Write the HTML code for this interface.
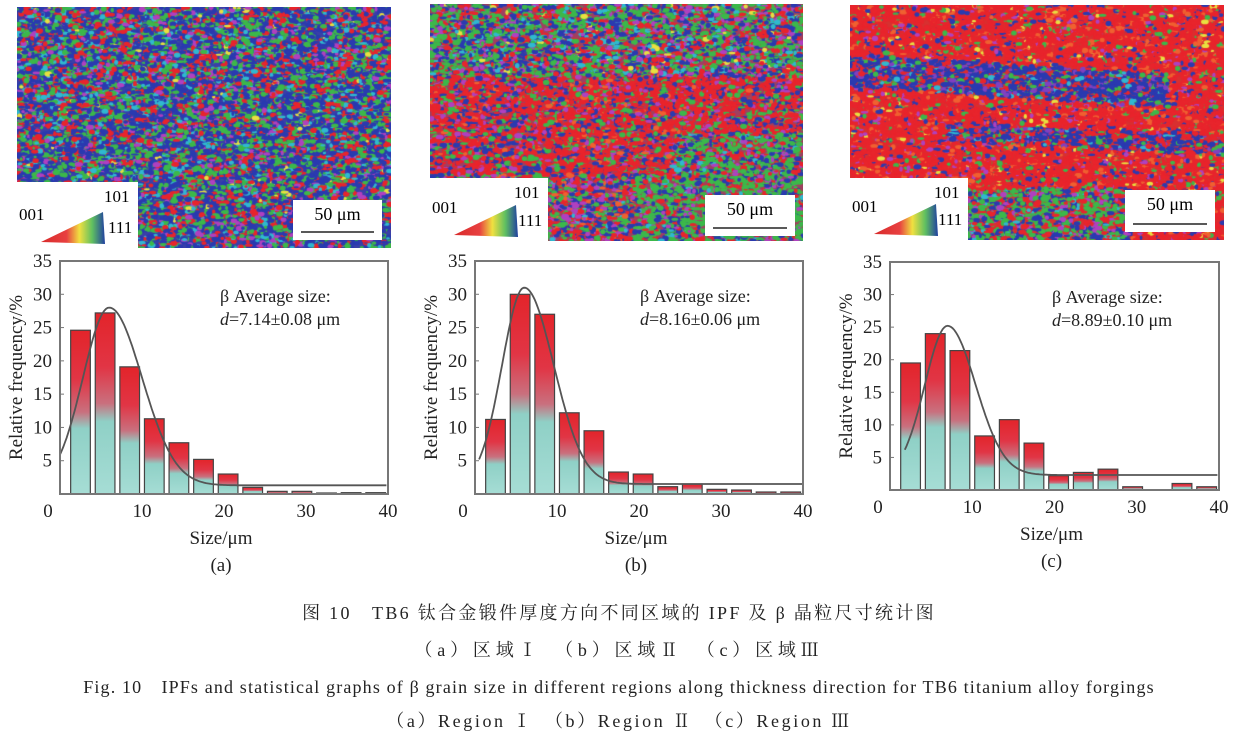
<!DOCTYPE html>
<html><head><meta charset="utf-8"><style>
html,body{margin:0;padding:0;background:#fff;}
body{width:1238px;height:731px;position:relative;overflow:hidden;font-family:"Liberation Serif","Noto Serif CJK SC",serif;}
canvas{position:absolute;}
.cap{position:absolute;left:0;width:1238px;text-align:center;color:#222;white-space:pre;}
</style></head><body>
<canvas id="m1" width="374" height="241" style="left:17px;top:7px"></canvas>
<canvas id="m2" width="373" height="237" style="left:430px;top:4px"></canvas>
<canvas id="m3" width="374" height="235" style="left:850px;top:5px"></canvas>
<svg id="ov" width="1238" height="731" style="position:absolute;left:0;top:0" font-family="Liberation Serif, serif">
<defs>
<linearGradient id="bg" x1="0" y1="0" x2="0" y2="1">
<stop offset="0" stop-color="#e3242a"/><stop offset="0.3" stop-color="#e13545"/><stop offset="0.5" stop-color="#c9707e"/><stop offset="0.6" stop-color="#8fd0c6"/><stop offset="1" stop-color="#a6ddd5"/>
</linearGradient>
<linearGradient id="tri" x1="0" y1="0" x2="1" y2="0">
<stop offset="0" stop-color="#d82a2a"/><stop offset="0.4" stop-color="#e84040"/><stop offset="0.6" stop-color="#f0e040"/><stop offset="0.8" stop-color="#60c060"/><stop offset="1" stop-color="#2040a0"/>
</linearGradient>
</defs>
<g id="charts"></g>
</svg>
<div class="cap" style="top:599px;font-size:18px;letter-spacing:2.3px">图 10　TB6 钛合金锻件厚度方向不同区域的 IPF 及 β 晶粒尺寸统计图</div>
<div class="cap" style="top:636px;font-size:18px;letter-spacing:4.8px">（a）区域Ⅰ　（b）区域Ⅱ　（c）区域Ⅲ</div>
<div class="cap" style="top:673px;font-size:18px;letter-spacing:1.15px">Fig. 10　IPFs and statistical graphs of β grain size in different regions along thickness direction for TB6 titanium alloy forgings</div>
<div class="cap" style="top:707px;font-size:18px;letter-spacing:2.6px">（a）Region Ⅰ　（b）Region Ⅱ　（c）Region Ⅲ</div>
<script>
var seed=12345;function rnd(){seed=(seed*16807)%2147483647;return seed/2147483647;}
var C={r:'#e8242c',b:'#2a3ab0',g:'#3cb84a',c:'#30b8d0',m:'#b040c0',o:'#f06030',y:'#e8e040',p:'#8040c0'};
function pick(w){var s=0,k;for(k in w)s+=w[k];var t=rnd()*s;for(k in w){t-=w[k];if(t<=0)return C[k];}return C.r;}
function w1(x,y){return {b:40,g:25,r:20,c:8,m:7,y:1};}
function w2(x,y){if(y<0.3)return {g:35,b:25,r:20,m:10,c:8,y:2};
 if(y<0.72){if(x>0.65&&y>0.55)return {g:40,b:25,r:20,m:10,c:5};return {r:55,b:18,g:15,m:8,o:4};}
 if(x>0.55)return {g:50,b:20,r:15,m:10,c:5};return {r:25,b:25,g:25,m:15,o:8,c:2};}
function w3(x,y){var b1=0.28+0.1*x, b2=0.52+0.08*x;
 if(Math.abs(y-b1)<0.07&&x<0.85)return {b:55,p:15,r:15,g:10,c:5};
 if(Math.abs(y-b2)<0.04&&x>0.25)return {b:45,r:30,g:10,p:10,c:5};
 if(y>0.78&&x>0.25&&x<0.75)return {g:35,b:25,r:25,m:10,c:5};
 return {r:72,o:8,b:8,g:6,m:4,y:2};}
function map(id,wf,base){var cv=document.getElementById(id),ctx=cv.getContext('2d'),W=cv.width,H=cv.height;
 ctx.fillStyle=base;ctx.fillRect(0,0,W,H);
 for(var i=0;i<14000;i++){var x=rnd()*W,y=rnd()*H;ctx.fillStyle=pick(wf(x/W,y/H));ctx.beginPath();ctx.ellipse(x,y,1.5+rnd()*2.5,1+rnd()*1.8,0,0,6.283);ctx.fill();}}
map('m1',w1,'#3a40a8');map('m2',w2,'#a04060');map('m3',w3,'#d83030');
var NS='http://www.w3.org/2000/svg',G=document.getElementById('charts');
function el(t,a,txt){var e=document.createElementNS(NS,t);for(var k in a)e.setAttribute(k,a[k]);if(txt!=null)e.textContent=txt;G.appendChild(e);return e;}
[[17,182,138,248,293,200,382,240],[430,178,548,241,705,195,795,236],[850,178,968,240,1125,190,1215,232]].forEach(function(L){
 el('rect',{x:L[0],y:L[1],width:L[2]-L[0],height:L[3]-L[1],fill:'#fff'});
 var tx=L[0]+24,ty=L[3]-18;el('polygon',{points:(tx)+','+(ty+12)+' '+(tx+62)+','+(ty-18)+' '+(tx+64)+','+(ty+14),fill:'url(#tri)'});
 el('text',{x:L[0]+2,y:L[3]-28,'font-size':17},'001');el('text',{x:L[2]-34,y:L[1]+20,'font-size':17},'101');el('text',{x:L[2]-30,y:L[3]-15,'font-size':17},'111');
 el('rect',{x:L[4],y:L[5],width:L[6]-L[4],height:L[7]-L[5],fill:'#fff'});
 el('text',{x:(L[4]+L[6])/2,y:L[5]+20,'font-size':18,'text-anchor':'middle'},'50 μm');
 el('line',{x1:L[4]+8,x2:L[6]-8,y1:L[7]-8,y2:L[7]-8,stroke:'#222','stroke-width':1.5});
});
var charts=[
 {l:60,r:388,t:261,b:494,h:[24.6,27.2,19.1,11.3,7.7,5.2,3,1,0.4,0.4,0.15,0.2,0.2],pk:[28,6,3.2,4,1.3,0],txt:'7.14±0.08',lab:'(a)',ax:220},
 {l:475,r:803,t:261,b:494,h:[11.2,30,27,12.2,9.5,3.3,3.0,1.1,1.5,0.7,0.6,0.3,0.3],pk:[31,6,2.7,3.6,1.5,0.5],txt:'8.16±0.06',lab:'(b)',ax:640},
 {l:890,r:1219,t:262,b:490,h:[19.5,24,21.4,8.3,10.8,7.2,2.2,2.7,3.2,0.5,0,1.0,0.5],pk:[25.2,7,2.76,3.4,2.3,1.8],txt:'8.89±0.10',lab:'(c)',ax:1052}];
charts.forEach(function(c){
 var sx=(c.r-c.l)/40,sy=(c.b-c.t)/35;
 function X(v){return c.l+v*sx;}function Y(v){return c.b-v*sy;}
 c.h.forEach(function(h,i){if(h<=0)return;var cx=2.5+3*i;el('rect',{x:X(cx-1.2),y:Y(h),width:2.4*sx,height:h*sy,fill:'url(#bg)',stroke:'#444','stroke-width':1.2});});
 var p=c.pk,d='';for(var v=p[5];v<=40;v+=0.2){var s=v<p[1]?p[2]:p[3];var y=p[4]+(p[0]-p[4])*Math.exp(-(v-p[1])*(v-p[1])/(2*s*s));d+=(d?'L':'M')+X(v).toFixed(1)+','+Y(y).toFixed(1);}
 el('path',{d:d,fill:'none',stroke:'#555','stroke-width':1.8});
 el('rect',{x:c.l,y:c.t,width:c.r-c.l,height:c.b-c.t,fill:'none',stroke:'#777','stroke-width':2});
 for(var k=0;k<=35;k+=5){if(k>0)el('text',{x:c.l-8,y:Y(k)+6,'font-size':19,'text-anchor':'end',fill:'#222'},k);el('line',{x1:c.l,x2:c.l+4,y1:Y(k),y2:Y(k),stroke:'#777'});}
 for(var k=0;k<=40;k+=10){el('text',{x:X(k)-(k==0?12:0),y:c.b+23,'font-size':19,'text-anchor':'middle',fill:'#222'},k);}
 el('text',{x:(c.l+c.r)/2-3,y:c.b+50,'font-size':19,'text-anchor':'middle',fill:'#222'},'Size/μm');
 el('text',{x:(c.l+c.r)/2-3,y:c.b+77,'font-size':19,'text-anchor':'middle',fill:'#222'},c.lab);
 var ty=(c.t+c.b)/2;el('text',{x:0,y:0,'font-size':19,'text-anchor':'middle',fill:'#222',transform:'translate('+(c.l-38)+','+ty+') rotate(-90)'},'Relative frequency/%');
 el('text',{x:c.ax,y:c.t+41,'font-size':18,fill:'#222'},'β Average size:');
 var t=el('text',{x:c.ax,y:c.t+64,'font-size':18,fill:'#222'});t.innerHTML='<tspan font-style="italic">d</tspan>='+c.txt+' μm';
});
</script>
</body></html>
